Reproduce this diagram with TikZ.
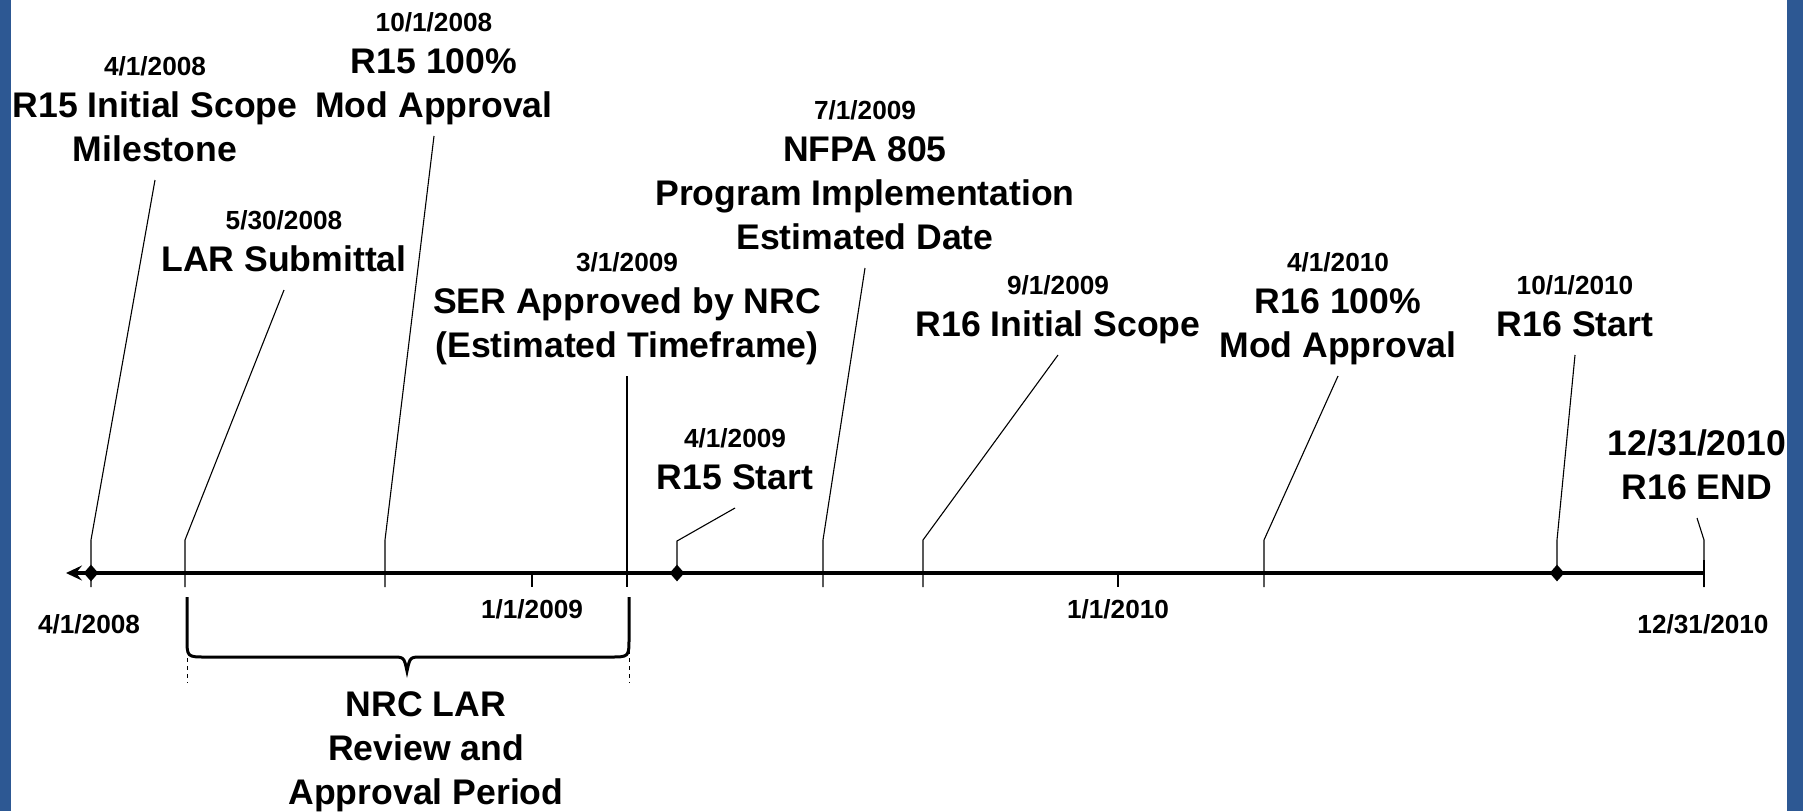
\documentclass[tikz,border=0pt]{standalone}
\usepackage{fontspec}
\setmainfont{Liberation Sans}
\usetikzlibrary{arrows.meta,shapes.geometric}
\definecolor{bandblue}{RGB}{45,88,147}
\newcommand{\bigf}{\fontsize{17.8}{22}\selectfont\bfseries}
\newcommand{\datef}{\fontsize{13.1}{20}\selectfont\bfseries}
\newcommand{\dl}[1]{{\datef\strut #1}\\[-1pt]}
\tikzset{
  lbl/.style={font=\bigf, align=center, inner sep=0pt, anchor=south},
  axlbl/.style={font=\datef, inner sep=0pt, anchor=base},
  leader/.style={draw=black, line width=0.55pt},
  ticky/.style={draw=black, line width=0.6pt},
  endtick/.style={draw=black, line width=1pt},
  axisline/.style={draw=black, line width=1.6pt},
  dia/.style={diamond, fill=black, inner sep=0pt, minimum width=7.5pt, minimum height=8.5pt},
  bracepath/.style={draw=black, line width=1.5pt},
  guide/.style={draw=black, line width=0.5pt, dash pattern=on 2pt off 2pt}
}
\begin{document}
\begin{tikzpicture}[x=0.5pt,y=-0.5pt]
\useasboundingbox (0,0) rectangle (1803,811);
\fill[white] (0,0) rectangle (1803,811);
\fill[bandblue] (0,0) rectangle (11,811);
\fill[bandblue] (1787,0) rectangle (1803,811);

% coordinates on the axis
\coordinate (aL) at (66,573);
\coordinate (aR) at (1704,573);
\coordinate (b1) at (91,540);   \coordinate (t1) at (91,587);
\coordinate (b2) at (185,540);  \coordinate (t2) at (185,587);
\coordinate (b3) at (385,540);  \coordinate (t3) at (385,587);
\coordinate (t4) at (627,587);
\coordinate (b5) at (677,541);
\coordinate (b6) at (823,540);  \coordinate (t6) at (823,587);
\coordinate (b7) at (923,540);  \coordinate (t7) at (923,587);
\coordinate (b8) at (1264,540); \coordinate (t8) at (1264,587);
\coordinate (b9) at (1557,540);
\coordinate (b10) at (1704,540); \coordinate (t10) at (1704,587);
\coordinate (e10) at (1704,560);
\coordinate (y9a) at (532,573); \coordinate (y9b) at (532,587);
\coordinate (y10a) at (1118,573); \coordinate (y10b) at (1118,587);

% labels
\node[lbl] (l1) at (155,175) {\dl{4/1/2008}\strut R15 Initial Scope\\\strut Milestone};
\node[lbl] (l2) at (284,285) {\dl{5/30/2008}\strut LAR Submittal};
\node[lbl] (l3) at (434,131) {\dl{10/1/2008}\strut R15 100\%\\\strut Mod Approval};
\node[lbl] (l4) at (627,371) {\dl{3/1/2009}\strut SER Approved by NRC\\\strut (Estimated Timeframe)};
\node[lbl] (l5) at (735,503) {\dl{4/1/2009}\strut R15 Start};
\node[lbl] (l6) at (865,263) {\dl{7/1/2009}\strut NFPA 805\\\strut Program Implementation\\\strut Estimated Date};
\node[lbl] (l7) at (1058,350) {\dl{9/1/2009}\strut R16 Initial Scope};
\node[lbl] (l8) at (1338,371) {\dl{4/1/2010}\strut R16 100\%\\\strut Mod Approval};
\node[lbl] (l9) at (1575,350) {\dl{10/1/2010}\strut R16 Start};
\node[lbl] (l10) at (1697,513) {\strut 12/31/2010\\\strut R16 END};
\node[lbl] (lb) at (426,818) {\strut NRC LAR\\\strut Review and\\\strut Approval Period};

% axis labels
\node[axlbl] (x1) at (89,633) {4/1/2008};
\node[axlbl] (x2) at (532,618) {1/1/2009};
\node[axlbl] (x3) at (1118,618) {1/1/2010};
\node[axlbl] (x4) at (1703,633) {12/31/2010};

% axis
\draw[axisline,-{Stealth[length=8pt,width=7.5pt,inset=3pt]}] (aR) -- (aL);
\draw[ticky] (y9a) -- (y9b);
\draw[ticky] (y10a) -- (y10b);
\draw[endtick] (e10) -- (t10);

% leaders
\draw[leader] ([yshift=-2.5pt]l1.south) -- (b1) -- (t1);
\draw[leader] ([yshift=-2.5pt]l2.south) -- (b2) -- (t2);
\draw[leader] ([yshift=-2.5pt]l3.south) -- (b3) -- (t3);
\draw[leader] ([yshift=-2.5pt]l4.south) -- (t4);
\draw[leader] ([yshift=-2.5pt]l5.south) -- (b5) -- (677,573);
\draw[leader] ([yshift=-2.5pt]l6.south) -- (b6) -- (t6);
\draw[leader] ([yshift=-2.5pt]l7.south) -- (b7) -- (t7);
\draw[leader] ([yshift=-2.5pt]l8.south) -- (b8) -- (t8);
\draw[leader] ([yshift=-2.5pt]l9.south) -- (b9) -- (1557,573);
\draw[leader] ([yshift=-2.5pt]l10.south) -- (b10) -- (t10);

% diamonds
\node[dia] (d1) at (91,573) {};
\node[dia] (d5) at (677,573) {};
\node[dia] (d9) at (1557,573) {};

% brace
\draw[bracepath] (187,597) -- (187,638) .. controls (187,657) .. (206,657) -- (392,657)
  .. controls (404,657) .. (407,671) .. controls (410,657) .. (422,657) -- (610,657)
  .. controls (629,657) .. (629,638) -- (629,597);
\draw[guide] (187,650) -- (187,683);
\draw[guide] (629,650) -- (629,683);
\end{tikzpicture}
\end{document}
